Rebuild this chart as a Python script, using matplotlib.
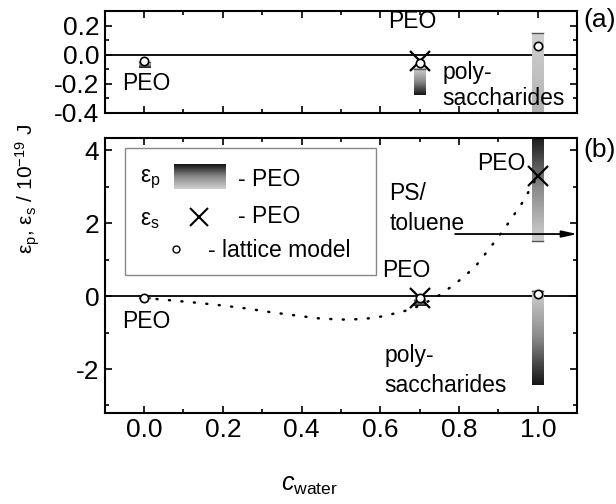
import numpy as np
import matplotlib
matplotlib.use('Agg')
import matplotlib.pyplot as plt
from matplotlib.colors import LinearSegmentedColormap
from matplotlib.patches import Rectangle
from matplotlib.ticker import MultipleLocator

plt.rcParams['font.family'] = ['Liberation Sans', 'DejaVu Sans']
plt.rcParams['mathtext.fontset'] = 'custom'
plt.rcParams['mathtext.rm'] = 'Liberation Sans'
plt.rcParams['mathtext.it'] = 'Liberation Sans:italic'

# eps_p ranges drawn as gradient bars (light end -> dark end)
bar_x = [0.0, 0.7, 1.0, 1.0]
bar_light = [-0.05, -0.10, 1.5, 0.15]
bar_dark = [-0.09, -0.28, 4.4, -2.44]

# eps_s (crosses)
eps_s_x = [0.7, 1.0]
eps_s = [-0.04, 3.3]

# lattice model (open circles)
lattice_x = [0.0, 0.7, 1.0]
lattice = [-0.04, -0.06, 0.06]

# dotted guide curve
curve_x = [0.0, 0.07, 0.13, 0.2, 0.26, 0.32, 0.39, 0.45, 0.52, 0.585, 0.62,
           0.68, 0.74, 0.79, 0.84, 0.88, 0.92, 0.96, 1.0]
curve_y = [-0.05, -0.12, -0.18, -0.26, -0.34, -0.44, -0.54, -0.62, -0.65,
           -0.6, -0.52, -0.36, -0.05, 0.33, 0.79, 1.34, 1.92, 2.55, 3.3]

ps_toluene = 1.7

cmap = LinearSegmentedColormap.from_list('g', ['#d0d0d0', '#8a8a8a', '#141414'])
bar_w = 0.028


def draw_bars(ax):
    for x, lo, hi in zip(bar_x, bar_light, bar_dark):
        top, bot = max(lo, hi), min(lo, hi)
        g = np.linspace(0, 1, 256).reshape(-1, 1)
        if hi > lo:
            g = g[::-1]
        ax.imshow(g, cmap=cmap, vmin=0, vmax=1, aspect='auto',
                  extent=[x - bar_w / 2, x + bar_w / 2, bot, top],
                  interpolation='bilinear', zorder=2)
        ax.plot([x - bar_w / 2, x + bar_w / 2], [lo, lo], color='#555555', lw=1, zorder=3)


def style(ax):
    ax.set_xlim(-0.1, 1.1)
    ax.xaxis.set_major_locator(MultipleLocator(0.2))
    ax.xaxis.set_minor_locator(MultipleLocator(0.1))
    ax.tick_params(which='both', direction='in', top=True, right=True, width=1.2,
                   labelsize=19, pad=4)
    ax.tick_params(which='major', length=5)
    ax.tick_params(which='minor', length=3)
    for s in ax.spines.values():
        s.set_linewidth(1.5)
    ax.axhline(0, color='black', lw=1.3, zorder=1)


fig = plt.figure(figsize=(6.16, 5.04), dpi=100)
ax_a = fig.add_axes([0.170, 0.776, 0.767, 0.202])
ax_b = fig.add_axes([0.170, 0.181, 0.767, 0.545])

for ax in (ax_a, ax_b):
    style(ax)
    draw_bars(ax)
    ax.plot(eps_s_x, eps_s, 'x', color='black', ms=15, mew=1.6, zorder=4)
    ax.plot(lattice_x, lattice, 'o', mfc='white', mec='black', ms=6, mew=1.2, zorder=5)

ax_b.plot(curve_x, curve_y, color='black', lw=1.8, linestyle=(0, (0.4, 4.6)),
          dash_capstyle='round', zorder=3)

# panel (a)
ax_a.set_ylim(-0.4, 0.3)
ax_a.set_yticks([-0.4, -0.2, 0.0, 0.2])
ax_a.set_yticklabels(['-0.4', '-0.2', '0.0', '0.2'])
ax_a.yaxis.set_minor_locator(MultipleLocator(0.1))
ax_a.tick_params(labelbottom=False)
ax_a.text(-0.056, -0.2, 'PEO', fontsize=16.5, va='center')
ax_a.text(0.62, 0.23, 'PEO', fontsize=16.5, va='center')
ax_a.text(0.757, -0.12, 'poly-', fontsize=16.5, va='center')
ax_a.text(0.757, -0.3, 'saccharides', fontsize=16.5, va='center')
ax_a.text(1.013, 0.91, '(a)', fontsize=19, va='center', transform=ax_a.transAxes)

# panel (b)
ax_b.set_ylim(-3.2, 4.33)
ax_b.set_yticks([-2, 0, 2, 4])
ax_b.set_yticklabels(['-2', '0', '2', '4'])
ax_b.yaxis.set_minor_locator(MultipleLocator(1))
ax_b.set_xticks([0.0, 0.2, 0.4, 0.6, 0.8, 1.0])
ax_b.set_xticklabels(['0.0', '0.2', '0.4', '0.6', '0.8', '1.0'])
ax_b.text(0.846, 3.64, 'PEO', fontsize=16.5, va='center')
ax_b.text(0.623, 2.8, 'PS/', fontsize=16.5, va='center')
ax_b.text(0.623, 2.0, 'toluene', fontsize=16.5, va='center')
ax_b.text(0.605, 0.71, 'PEO', fontsize=16.5, va='center')
ax_b.text(-0.056, -0.71, 'PEO', fontsize=16.5, va='center')
ax_b.text(0.61, -1.62, 'poly-', fontsize=16.5, va='center')
ax_b.text(0.61, -2.45, 'saccharides', fontsize=16.5, va='center')
ax_b.text(1.013, 0.956, '(b)', fontsize=19, va='center', transform=ax_b.transAxes)
ax_b.annotate('', xy=(1.1, ps_toluene), xytext=(0.79, ps_toluene),
              arrowprops=dict(arrowstyle='-|>,head_length=0.9,head_width=0.2',
                              color='black', lw=1.3, shrinkA=0, shrinkB=0),
              annotation_clip=False, zorder=4)

# hand-made legend box
T = ax_b.transAxes
ax_b.add_patch(Rectangle((0.042, 0.502), 0.532, 0.462, transform=T, facecolor='white',
                         edgecolor='#888888', lw=1, zorder=6))
g = np.linspace(1, 0, 64).reshape(-1, 1)
ax_b.imshow(g, cmap=cmap, vmin=0, vmax=1, aspect='auto', extent=[0.146, 0.256, 0.815, 0.905],
            transform=T, interpolation='bilinear', zorder=7)
ax_b.text(0.074, 0.851, 'ε$_\\mathregular{p}$', fontsize=16.5, va='center', transform=T, zorder=7)
ax_b.text(0.282, 0.851, '- PEO', fontsize=16.5, va='center', transform=T, zorder=7)
ax_b.text(0.074, 0.705, 'ε$_\\mathregular{s}$', fontsize=16.5, va='center', transform=T, zorder=7)
ax_b.plot([0.199], [0.713], 'x', color='black', ms=13, mew=1.5, transform=T, zorder=7)
ax_b.text(0.282, 0.713, '- PEO', fontsize=16.5, va='center', transform=T, zorder=7)
ax_b.plot([0.150], [0.598], 'o', mfc='white', mec='black', ms=5, mew=1, transform=T, zorder=7)
ax_b.text(0.218, 0.589, '- lattice model', fontsize=16.5, va='center', transform=T, zorder=7)

ax_b.set_xlim(-0.1, 1.1)
ax_b.set_ylim(-3.2, 4.33)
ax_a.set_xlim(-0.1, 1.1)
ax_a.set_ylim(-0.4, 0.3)

fig.text(0.045, 0.625, 'ε$_\\mathregular{p}$, ε$_\\mathregular{s}$ / 10$^\\mathregular{-19}$ J',
         rotation=90, fontsize=15, ha='center', va='center')
fig.text(0.503, 0.038, r'$c_\mathregular{water}$', fontsize=18, ha='center', va='center')

fig.savefig('out.png', dpi=100)
